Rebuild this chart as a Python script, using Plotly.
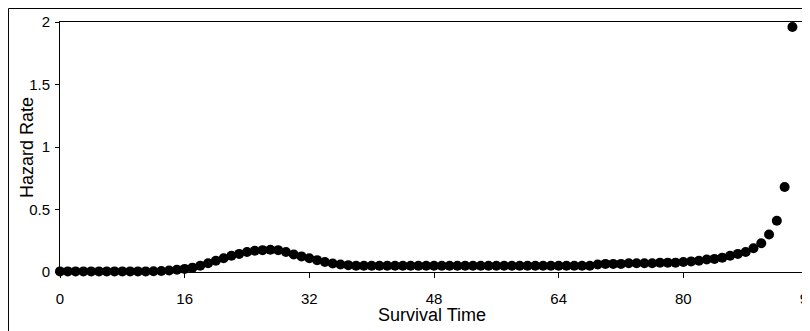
import plotly.graph_objects as go

# Survival time points (integers) and hazard rates
survival_time = list(range(0, 95))
hazard_rate = [
    0.005, 0.005, 0.005, 0.005, 0.005, 0.005, 0.005, 0.005, 0.005, 0.005,   # 0-9
    0.005, 0.005, 0.006, 0.008, 0.012, 0.018, 0.025, 0.035, 0.05, 0.07,     # 10-19
    0.09, 0.11, 0.13, 0.145, 0.16, 0.17, 0.175, 0.178, 0.175, 0.16,         # 20-29
    0.14, 0.125, 0.11, 0.095, 0.08, 0.068, 0.06, 0.055, 0.05, 0.05,         # 30-39
    0.05, 0.05, 0.05, 0.05, 0.05, 0.05, 0.05, 0.05, 0.05, 0.05,             # 40-49
    0.05, 0.05, 0.05, 0.05, 0.05, 0.05, 0.05, 0.05, 0.05, 0.05,             # 50-59
    0.05, 0.05, 0.05, 0.05, 0.05, 0.05, 0.05, 0.05, 0.05, 0.06,             # 60-69
    0.065, 0.065, 0.065, 0.07, 0.07, 0.07, 0.07, 0.075, 0.075, 0.075,       # 70-79
    0.08, 0.085, 0.09, 0.1, 0.105, 0.115, 0.13, 0.145, 0.16, 0.19,          # 80-89
    0.23, 0.30, 0.41, 0.68, 1.96,                                           # 90-94
]

x_ticks = [0, 16, 32, 48, 64, 80, 96]
y_ticks = [0, 0.5, 1, 1.5, 2]
y_tick_text = ["0", "0.5", "1", "1.5", "2"]

FONT = "Arial, 'Liberation Sans', sans-serif"

fig = go.Figure()
fig.add_trace(go.Scatter(
    x=survival_time, y=hazard_rate, mode="markers",
    marker=dict(color="black", size=10, line=dict(width=0)),
    cliponaxis=False, showlegend=False,
))

# the page body has an 8px margin, so the figure starts at (8, 8)
OFF = 8
W, H = 810 - OFF, 331 - OFF
L, R, T, B = 60 - OFF, 2.4, 22 - OFF, 59
pw = W - L - R
ph = H - T - B

fig.update_layout(
    width=W, height=H,
    margin=dict(l=L, r=R, t=T, b=B, autoexpand=False),
    paper_bgcolor="white", plot_bgcolor="white",
    font=dict(family=FONT, color="black", size=15),
    xaxis=dict(
        range=[0, 96], tickvals=x_ticks, ticks="outside", ticklen=5,
        tickcolor="black", showline=True, linecolor="black", linewidth=1,
        mirror=True, showgrid=False, zeroline=False,
        tickfont=dict(size=15), ticklabelstandoff=8,
        ticklabeloverflow="allow",
    ),
    yaxis=dict(
        range=[0, 2], tickvals=y_ticks, ticktext=y_tick_text,
        ticks="outside", ticklen=4, tickcolor="black",
        showline=True, linecolor="black", linewidth=1, mirror=True,
        showgrid=False, zeroline=False, tickfont=dict(size=15),
        ticklabelstandoff=2,
    ),
    annotations=[
        dict(text="Hazard Rate", xref="paper", yref="paper",
             x=(27 - OFF - L) / pw, y=0.5, xanchor="center", yanchor="middle",
             textangle=-90, showarrow=False, font=dict(size=18)),
        dict(text="Survival Time", xref="paper", yref="paper",
             x=(432 - OFF - L) / pw, y=-(315 - OFF - (H - B)) / ph,
             xanchor="center", yanchor="middle", showarrow=False,
             font=dict(size=18)),
    ],
    shapes=[
        dict(type="rect", xref="paper", yref="paper",
             x0=(0.5 - L) / pw, x1=1.2, y0=-1, y1=1 + (T - 0.5) / ph,
             line=dict(color="black", width=1), fillcolor="rgba(0,0,0,0)",
             layer="below"),
    ],
)

fig.write_html("out.html")
